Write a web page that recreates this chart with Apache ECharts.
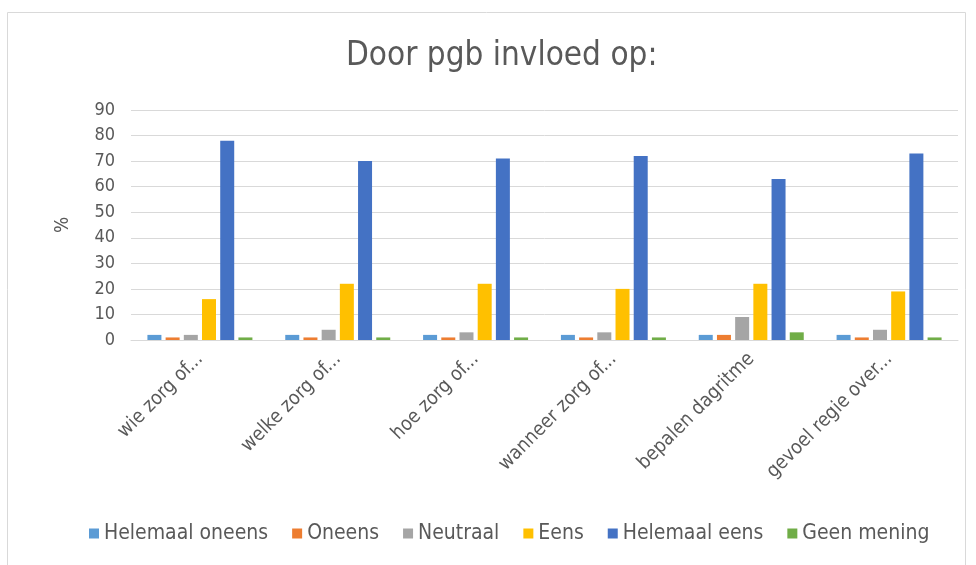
<!DOCTYPE html>
<html>
<head>
<meta charset="utf-8">
<script src="https://cdn.jsdelivr.net/npm/echarts@6/dist/echarts.min.js"></script>
<style>
  html, body { margin: 0; padding: 0; background: #fff; }
  #chart { width: 976px; height: 565px; }
</style>
</head>
<body>
<div id="chart"></div>
<script>
// categorieën en reeksen
var categories = ['wie zorg of...', 'welke zorg of...', 'hoe zorg of...', 'wanneer zorg of...', 'bepalen dagritme', 'gevoel regie over...'];
var helemaalOneens = [2, 2, 2, 2, 2, 2];
var oneens = [1, 1, 1, 1, 2, 1];
var neutraal = [2, 4, 3, 3, 9, 4];
var eens = [16, 22, 22, 20, 22, 19];
var helemaalEens = [78, 70, 71, 72, 63, 73];
var geenMening = [1, 1, 1, 1, 3, 1];

var font = "'Liberation Sans Narrow', 'DejaVu Sans Condensed', 'Noto Sans', sans-serif";
var txt = '#595959';

function bar(name, data, color) {
    return {
        name: name,
        type: 'bar',
        data: data,
        barWidth: 14,
        barGap: '30%',
        itemStyle: { color: color }
    };
}

var myChart = echarts.init(document.getElementById('chart'));
var option = {
    textStyle: { fontFamily: font },
    graphic: [{
        type: 'rect',
        shape: { x: 7.5, y: 12.5, width: 958, height: 600 },
        style: { fill: 'none', stroke: '#d9d9d9', lineWidth: 1 },
        silent: true
    }],
    title: {
        text: 'Door pgb invloed op:',
        left: 341,
        top: 35,
        textStyle: { fontSize: 33, fontWeight: 'normal', color: txt, fontFamily: font }
    },
    legend: {
        bottom: 16,
        left: 84,
        itemWidth: 10,
        itemHeight: 10,
        itemGap: 24,
        icon: 'rect',
        textStyle: { fontSize: 21, color: txt, fontFamily: font },
        data: ['Helemaal oneens', 'Oneens', 'Neutraal', 'Eens', 'Helemaal eens', 'Geen mening']
    },
    grid: { left: 131, right: 18, top: 110, bottom: 225 },
    xAxis: {
        type: 'category',
        data: categories,
        axisTick: { show: false },
        axisLine: { lineStyle: { color: '#d9d9d9', width: 1 } },
        axisLabel: { rotate: 45, fontSize: 19.5, color: txt, fontFamily: font, margin: 16, interval: 0 }
    },
    yAxis: {
        type: 'value',
        min: 0,
        max: 90,
        interval: 10,
        name: '%',
        nameLocation: 'middle',
        nameGap: 58,
        nameRotate: 90,
        nameTextStyle: { fontSize: 19, color: txt, fontFamily: font },
        axisLine: { show: false },
        axisTick: { show: false },
        axisLabel: { fontSize: 18, color: txt, fontFamily: font, margin: 16 },
        splitLine: { lineStyle: { color: '#d9d9d9', width: 1 } }
    },
    series: [
        bar('Helemaal oneens', helemaalOneens, '#5b9bd5'),
        bar('Oneens', oneens, '#ed7d31'),
        bar('Neutraal', neutraal, '#a5a5a5'),
        bar('Eens', eens, '#ffc000'),
        bar('Helemaal eens', helemaalEens, '#4472c4'),
        bar('Geen mening', geenMening, '#70ad47')
    ]
};
myChart.setOption(option);
</script>
</body>
</html>
